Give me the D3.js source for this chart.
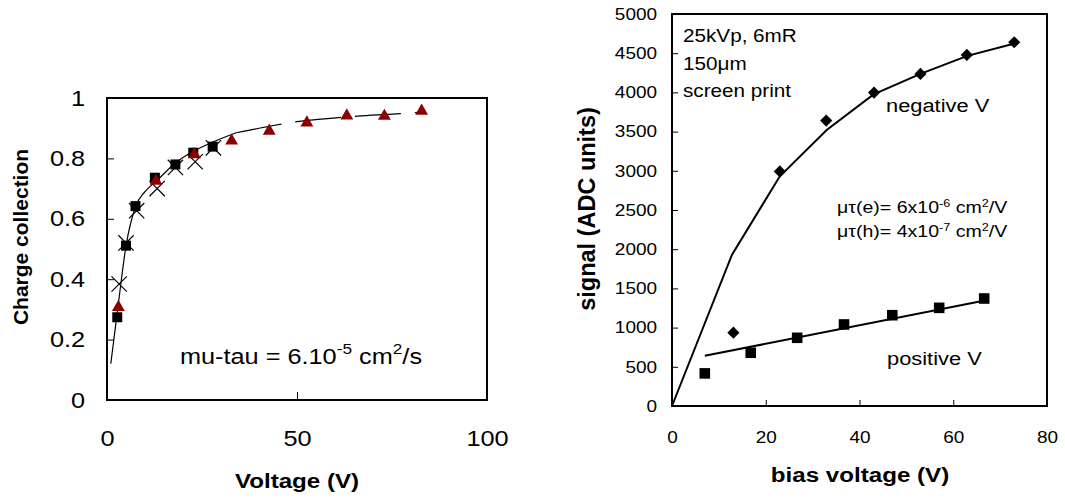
<!DOCTYPE html>
<html>
<head>
<meta charset="utf-8">
<script src="https://cdn.jsdelivr.net/npm/d3@7"></script>
<style>
  body { margin: 0; background: #fff; }
  svg { font-family: "Liberation Sans", Arial, sans-serif; }
</style>
</head>
<body>
<div id="plot"></div>
<script>
// left panel: charge collection vs voltage
var sqV = [2.7, 5, 7.5, 12.6, 18, 22.7, 27.8],
    sqCC = [0.274, 0.511, 0.642, 0.736, 0.780, 0.819, 0.839];
var crV = [3.2, 5, 7.8, 13.2, 18, 23.2, 28],
    crCC = [0.384, 0.52, 0.627, 0.70, 0.77, 0.789, 0.835];
var trV = [3, 12.9, 23, 32.8, 42.7, 52.6, 63.1, 73, 82.8],
    trCC = [0.307, 0.725, 0.813, 0.858, 0.891, 0.918, 0.941, 0.940, 0.957];
var fitV = [1, 3, 5, 7.5, 10, 13, 18, 23, 28, 34],
    fitCC = [0.12, 0.32, 0.51, 0.64, 0.69, 0.725, 0.785, 0.825, 0.855, 0.885];
var fitDashV = [34, 38.5, 43, 50, 58, 66, 74, 83.2],
    fitDashCC = [0.885, 0.896, 0.907, 0.922, 0.932, 0.940, 0.946, 0.953];
var leftXTicks = [0, 50, 100],
    leftYTicks = [0, 0.2, 0.4, 0.6, 0.8, 1];

// right panel: signal vs bias voltage
var negV = [13.1, 23, 32.9, 43.1, 53, 62.9, 73],
    negS = [935, 2992, 3641, 3998, 4236, 4478, 4640];
var negFitV = [0, 12.8, 23, 33, 43, 53, 63, 73.3],
    negFitS = [0, 1930, 2930, 3520, 3975, 4236, 4466, 4627];
var posV = [7, 16.8, 26.7, 36.7, 47, 57, 66.6],
    posS = [416, 679, 870, 1040, 1158, 1252, 1371];
var posFitV = [7, 67],
    posFitS = [640, 1350];
var rightXTicks = [0, 20, 40, 60, 80],
    rightYTicks = [0, 500, 1000, 1500, 2000, 2500, 3000, 3500, 4000, 4500, 5000];

var sx = 1.15; // text in the picture is stretched sideways

var svg = d3.select("#plot").append("svg")
    .attr("width", 1065)
    .attr("height", 500);

function label(g, x, y, size, anchor, weight) {
  return g.append("text")
      .attr("transform", "translate(" + x + "," + y + ") scale(" + sx + ",1)")
      .attr("text-anchor", anchor || "start")
      .attr("font-size", size)
      .attr("font-weight", weight || "normal")
      .attr("fill", "#000");
}
function sup(t, s, size, up) {
  t.append("tspan").attr("dy", -up).attr("font-size", size).text(s);
}
function down(t, s, up) {
  t.append("tspan").attr("dy", up).text(s);
}

// ---------- left ----------
var lx = d3.scaleLinear().domain([0, 100]).range([107, 487]),
    ly = d3.scaleLinear().domain([0, 1]).range([400, 98]);

var gl = svg.append("g");
gl.append("g")
    .attr("transform", "translate(107,0)")
    .call(d3.axisLeft(ly).tickValues(leftYTicks).tickSize(-7).tickPadding(19)
      .tickFormat(function(d) { return d === 0 || d === 1 ? d : d3.format(".1f")(d); }))
    .call(function(a) {
      a.select(".domain").remove();
      a.selectAll("text").attr("font-size", 22).attr("fill", "#000").attr("font-family", null)
        .attr("transform", "scale(" + sx + ",1)");
      a.selectAll("line").attr("stroke", "#000");
    });
gl.append("g")
    .attr("transform", "translate(0,400)")
    .call(d3.axisBottom(lx).tickValues(leftXTicks).tickSize(-8).tickPadding(30))
    .call(function(a) {
      a.select(".domain").remove();
      a.selectAll("text").attr("font-size", 22).attr("fill", "#000").attr("font-family", null)
        .attr("transform", "scale(" + sx + ",1)");
      a.selectAll("line").attr("stroke", "#000");
    });
gl.append("rect")
    .attr("x", lx(0)).attr("y", ly(1))
    .attr("width", lx(100) - lx(0)).attr("height", ly(0) - ly(1))
    .attr("fill", "none").attr("stroke", "#000").attr("stroke-width", 2);

var lineL = d3.line().curve(d3.curveMonotoneX);
gl.append("path")
    .attr("d", lineL(fitV.map(function(v, i) { return [lx(v), ly(fitCC[i])]; })))
    .attr("fill", "none").attr("stroke", "#000").attr("stroke-width", 1.2);
gl.append("path")
    .attr("d", lineL(fitDashV.map(function(v, i) { return [lx(v), ly(fitDashCC[i])]; })))
    .attr("fill", "none").attr("stroke", "#000").attr("stroke-width", 1.2)
    .attr("stroke-dasharray", "46,14");

gl.selectAll(".sq").data(sqV).enter().append("path")
    .attr("d", d3.symbol(d3.symbolSquare, 100))
    .attr("transform", function(v, i) { return "translate(" + lx(v) + "," + ly(sqCC[i]) + ")"; })
    .attr("fill", "#000");
gl.selectAll(".cr").data(crV).enter().append("path")
    .attr("d", d3.symbol(d3.symbolX, 155))
    .attr("transform", function(v, i) { return "translate(" + lx(v) + "," + ly(crCC[i]) + ")"; })
    .attr("fill", "none").attr("stroke", "#000").attr("stroke-width", 1.2);
gl.selectAll(".tr").data(trV).enter().append("path")
    .attr("d", d3.symbol(d3.symbolTriangle, 72))
    .attr("transform", function(v, i) { return "translate(" + lx(v) + "," + ly(trCC[i]) + ")"; })
    .attr("fill", "#8b0000");

var tl = label(gl, 180, 364, 22).text("mu-tau = 6.10");
sup(tl, "-5", 15, 10);
down(tl, " cm", 10);
sup(tl, "2", 15, 10);
down(tl, "/s", 10);

label(gl, 297, 488, 21, "middle", "bold").text("Voltage (V)");
gl.append("text")
    .attr("transform", "translate(28,237) rotate(-90)")
    .attr("text-anchor", "middle")
    .attr("font-size", 21).attr("font-weight", "bold")
    .text("Charge collection");

// ---------- right ----------
var rx = d3.scaleLinear().domain([0, 80]).range([672, 1047]),
    ry = d3.scaleLinear().domain([0, 5000]).range([406, 14]);

var gr = svg.append("g");
gr.append("g")
    .attr("transform", "translate(672,0)")
    .call(d3.axisLeft(ry).tickValues(rightYTicks).tickSize(-6).tickPadding(13).tickFormat(d3.format("d")))
    .call(function(a) {
      a.select(".domain").remove();
      a.selectAll("text").attr("font-size", 16.5).attr("fill", "#000").attr("font-family", null)
        .attr("transform", "scale(" + sx + ",1)");
      a.selectAll("line").attr("stroke", "#000");
    });
gr.append("g")
    .attr("transform", "translate(0,406)")
    .call(d3.axisBottom(rx).tickValues(rightXTicks).tickSize(-6).tickPadding(25))
    .call(function(a) {
      a.select(".domain").remove();
      a.selectAll("text").attr("font-size", 16.5).attr("fill", "#000").attr("font-family", null)
        .attr("transform", "scale(" + sx + ",1)");
      a.selectAll("line").attr("stroke", "#000");
    });
gr.append("rect")
    .attr("x", rx(0)).attr("y", ry(5000))
    .attr("width", rx(80) - rx(0)).attr("height", ry(0) - ry(5000))
    .attr("fill", "none").attr("stroke", "#000").attr("stroke-width", 2);

var lineR = d3.line();
gr.append("path")
    .attr("d", lineR(negFitV.map(function(v, i) { return [rx(v), ry(negFitS[i])]; })))
    .attr("fill", "none").attr("stroke", "#000").attr("stroke-width", 2);
gr.append("path")
    .attr("d", lineR(posFitV.map(function(v, i) { return [rx(v), ry(posFitS[i])]; })))
    .attr("fill", "none").attr("stroke", "#000").attr("stroke-width", 2);

gr.selectAll(".dm").data(negV).enter().append("path")
    .attr("d", d3.symbol(d3.symbolSquare, 74))
    .attr("transform", function(v, i) { return "translate(" + rx(v) + "," + ry(negS[i]) + ") rotate(45)"; })
    .attr("fill", "#000");
gr.selectAll(".ps").data(posV).enter().append("path")
    .attr("d", d3.symbol(d3.symbolSquare, 112))
    .attr("transform", function(v, i) { return "translate(" + rx(v) + "," + ry(posS[i]) + ")"; })
    .attr("fill", "#000");

label(gr, 683, 42, 18).text("25kVp, 6mR");
label(gr, 683, 70, 18).text("150\u03bcm");
label(gr, 683, 97, 18).text("screen print");
label(gr, 886, 112, 19).text("negative V");
label(gr, 887, 365, 19).text("positive V");

var te = label(gr, 837, 213, 17).text("\u03bc\u03c4(e)= 6x10");
sup(te, "-6", 11, 6);
down(te, " cm", 6);
sup(te, "2", 11, 6);
down(te, "/V", 6);
var th = label(gr, 837, 237, 17).text("\u03bc\u03c4(h)= 4x10");
sup(th, "-7", 11, 6);
down(th, " cm", 6);
sup(th, "2", 11, 6);
down(th, "/V", 6);

label(gr, 860, 482, 21, "middle", "bold").text("bias voltage (V)");
gr.append("text")
    .attr("transform", "translate(595,209) rotate(-90)")
    .attr("text-anchor", "middle")
    .attr("font-size", 23.5).attr("font-weight", "bold")
    .text("signal (ADC units)");
</script>
</body>
</html>
